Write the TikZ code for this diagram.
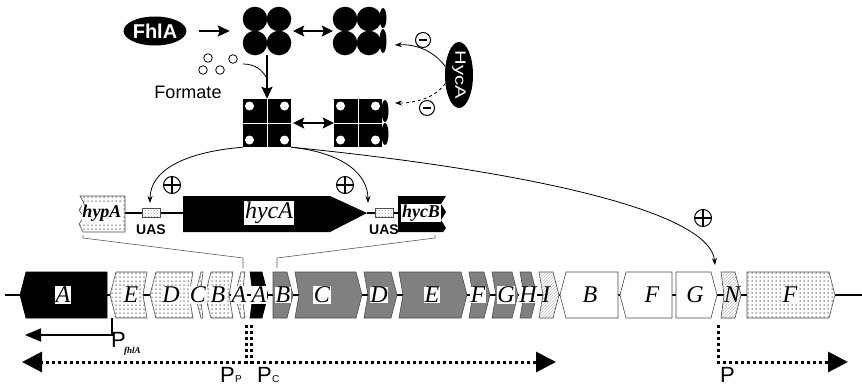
\documentclass[tikz,border=0pt]{standalone}
\usepackage{fontspec}
\setmainfont{Liberation Serif}
\setsansfont{Liberation Sans}
\usetikzlibrary{arrows.meta, patterns, shapes.geometric}
\newcommand{\fsz}[1]{\fontsize{#1}{#1}\selectfont}
\pgfdeclarepatternformonly{bigdots}{\pgfqpoint{-1pt}{-1pt}}{\pgfqpoint{3pt}{3pt}}{\pgfqpoint{4pt}{4pt}}{%
  \pgfpathcircle{\pgfqpoint{0pt}{0pt}}{0.75pt}\pgfusepath{fill}}
% gene arrows on the map: x1, x2, notch
\newcommand{\geneR}[4][]{\draw[#1] (#2,272) -- ({#3-6},272) -- (#3,295) -- ({#3-6},318) -- (#2,318) -- ({#2+#4},295) -- cycle;}
\newcommand{\geneL}[4][]{\draw[#1] (#2,295) -- ({#2+6},272) -- (#3,272) -- ({#3-#4},295) -- (#3,318) -- ({#2+6},318) -- cycle;}

\begin{document}
\begin{tikzpicture}[x=1pt, y=-1pt,
  arr/.style={line width=1.8pt, -{Stealth[length=12pt,width=11pt,inset=2pt]}},
  darr/.style={line width=1.8pt, {Stealth[length=11pt,width=11pt,inset=2pt]}-{Stealth[length=11pt,width=11pt,inset=2pt]}},
  thinarr/.style={line width=0.8pt, -{Stealth[length=7pt,width=5pt]}},
  cplx/.style={minimum size=48pt, inner sep=0pt},
  sminus/.style={circle, draw, line width=1pt, minimum size=15pt, inner sep=0pt,
    path picture={\draw[line width=2.6pt] ([xshift=3.5pt]path picture bounding box.west) -- ([xshift=-3.5pt]path picture bounding box.east);}},
  splus/.style={circle, draw, line width=1pt, minimum size=17pt, inner sep=0pt,
    path picture={\draw[line width=1.4pt] (path picture bounding box.west) -- (path picture bounding box.east) (path picture bounding box.north) -- (path picture bounding box.south);}},
  gengray/.style={fill=gray, draw=gray!60!black, line width=0.6pt},
  genblack/.style={fill=black, draw=black, line width=0.6pt},
  genwhite/.style={fill=white, draw=gray!60!black, line width=0.6pt},
  gendots/.style={preaction={fill=white}, pattern=bigdots, pattern color=gray!70!black, draw=gray!60!black, line width=0.6pt},
  genhatch/.style={preaction={fill=white}, pattern=north east lines, pattern color=gray!50, draw=gray!60!black, line width=0.6pt},
  glab/.style={fill=white, inner sep=0.6pt, font=\fsz{24}\itshape},
  glabh/.style={inner sep=0.6pt, font=\fsz{24}\itshape},
  glabb/.style={fill=white, inner sep=0.6pt, font=\fsz{18}\bfseries\itshape},
  uas/.style={draw=gray!60!black, preaction={fill=white}, pattern=crosshatch dots, pattern color=gray!70, minimum width=18pt, minimum height=9pt, inner sep=0pt},
  uaslab/.style={font=\sffamily\bfseries\fsz{14}, inner sep=0pt},
  plab/.style={font=\sffamily\fsz{22}, inner sep=0pt, anchor=base west},
  psub/.style={font=\sffamily\fsz{10}, inner sep=0pt, anchor=base west},
  pdot/.style={line width=3pt, dash pattern=on 3pt off 3pt, -{Triangle[length=20pt,width=20pt]}},
  brk/.style={line width=0.6pt, gray!70!black}
]
\useasboundingbox (0,0) rectangle (862,389);

% regulation scheme
\node[ellipse, fill=black, text=white, minimum width=57pt, minimum height=29pt, inner sep=0pt, font=\sffamily\bfseries\fsz{20}] (fhlAp) at (155,31) {FhlA};
\node[cplx] (tet) at (267,31) {};
\node[cplx] (tethy) at (357,31) {};
\node[cplx] (sq) at (267,123) {};
\node[cplx] (sqhy) at (358,123) {};
\foreach \cx in {267,357}
  \foreach \dx in {-12,12}
    \foreach \dy in {-12,12}
      \fill ({\cx+\dx},{31+\dy}) circle[radius=12.3];
\foreach \cx in {267,358} {
  \fill ({\cx-24},99) rectangle ({\cx+24},147);
  \draw[white, line width=0.7pt] (\cx,99) -- (\cx,147) ({\cx-24},123) -- ({\cx+24},123);
  \foreach \dx in {-17.5,17.5}
    \foreach \dy in {-17,17}
      \fill[white] ({\cx+\dx},{123+\dy}) circle[radius=4.5];
}
\fill (383,18) ellipse[x radius=3.5, y radius=10];
\fill (383,41) ellipse[x radius=3.5, y radius=12];
\fill (385,111) ellipse[x radius=3.5, y radius=11];
\fill (385,134) ellipse[x radius=3.5, y radius=11];

\draw[arr, shorten <=12pt, shorten >=13pt] (fhlAp) -- (tet);
\draw[darr, shorten <=2pt] (tet) -- (tethy);
\draw[arr] (tet) -- (sq);
\draw[darr, shorten <=2pt] (sq) -- (sqhy);

\node[ellipse, fill=black, minimum width=28pt, minimum height=66pt, inner sep=0pt] (hycAp) at (459,75) {};
\node[text=white, font=\sffamily\fsz{15}, rotate=-90, xscale=1.35, transform shape, inner sep=0pt] (hycAt) at (hycAp) {HycA};
\coordinate (tethyin) at (395,45);
\coordinate (sqhyin) at (395,103);
\draw[thinarr] (hycAp.148) .. controls (433,50) and (415,44) .. (tethyin);
\draw[thinarr, dashed] (hycAp.212) .. controls (435,98) and (415,103) .. (sqhyin);
\node[sminus] (m1) at (423,40) {};
\node[sminus] (m2) at (427,108) {};

\foreach \p in {(208,58),(233,59),(203,70),(220,70)}
  \draw[line width=0.8pt] \p circle[radius=4.3];
\node[font=\sffamily\fsz{18}, inner sep=0pt] (fmt) at (188,92) {Formate};
\coordinate (fmtin) at (243,64);
\coordinate (fmtout) at (266,77);
\draw[line width=0.8pt] (fmtin) .. controls (255,64) and (262,70) .. (fmtout);

\coordinate (uasL) at (150,203);
\coordinate (uasR) at (368,203);
\coordinate (nIn) at (715,265);
\draw[thinarr] (sq.south west) .. controls (185,152) and (150,170) .. (uasL);
\draw[thinarr] (sq.south east) .. controls (345,153) and (368,175) .. (uasR);
\draw[thinarr] (sq.south east) .. controls (520,170) and (710,210) .. (nIn);
\node[splus] (p1) at (172,185) {};
\node[splus] (p2) at (345,185) {};
\node[splus] (p3) at (703,218) {};

% hyp-hyc intergenic region
\draw[line width=2pt] (125,213) -- (183,213) (367,213) -- (398,213);
\draw[gendots] (125,196) -- (80,196) -- (84,203) -- (79,210) -- (84,217) -- (79,224) -- (83,232) -- (125,232) -- cycle;
\fill (183,196) -- (330,196) -- (367,213) -- (330,232) -- (183,232) -- cycle;
\fill (398,196) -- (446,196) -- (441,204) -- (446,212) -- (441,220) -- (446,228) -- (443,232) -- (398,232) -- cycle;
\node[glabb] (hypAm) at (102,213) {hypA};
\node[glab] (hycAm) at (269,213) {hycA};
\node[glabb] (hycBm) at (421,213) {hycB};
\node[uas] (uas1) at (151,212.5) {};
\node[uas] (uas2) at (384,212.5) {};
\node[uaslab, below=7pt] (uas1l) at (uas1.south) {UAS};
\node[uaslab, below=7pt] (uas2l) at (uas2.south) {UAS};
\draw[brk] (83,235) -- (83,238) -- (243,258) -- (243,268);
\draw[brk] (435,235) -- (435,238) -- (277,258) -- (277,268);

% gene map
\draw[line width=1.6pt] (5,295) -- (862,295);
\geneL[genblack]{20}{107}{0}
\geneL[gendots]{110}{147}{4}
\geneL[gendots]{150}{193}{4}
\geneL[gendots]{195}{203}{3}
\geneL[gendots]{205}{233}{4}
\geneL[gendots]{235}{245}{3}
\geneR[genblack]{250}{268}{3}
\geneR[gengray]{273}{293}{0}
\geneR[gengray]{295}{362}{4}
\geneR[gengray]{364}{397}{4}
\geneR[gengray]{399}{467}{4}
\geneR[gengray]{469}{490}{4}
\geneR[gengray]{492}{518}{4}
\geneR[gengray]{520}{537}{4}
\geneR[genhatch]{539}{559}{4}
\geneL[genwhite]{560}{618}{0}
\geneL[genwhite]{620}{672}{0}
\geneR[genwhite]{676}{717}{0}
\geneR[genhatch]{721}{741}{3}
\geneR[gendots]{747}{835}{0}
\node[glab] (fhlA) at (63,295) {A};
\node[glab] (hypE) at (131,295) {E};
\node[glab] (hypD) at (171,295) {D};
\node[glab] (hypC) at (198,295) {C};
\node[glab] (hypB) at (218,295) {B};
\node[glab] (hypA) at (239,295) {A};
\node[glab] (hycA) at (259,295) {A};
\node[glab] (hycB) at (283,295) {B};
\node[glab] (hycC) at (322,295) {C};
\node[glab] (hycD) at (379,295) {D};
\node[glab] (hycE) at (432,295) {E};
\node[glab] (hycF) at (478,295) {F};
\node[glab] (hycG) at (506,295) {G};
\node[glab] (hycH) at (528,295) {H};
\node[glabh] (hycI) at (546,295) {I};
\node[glab] (ascB) at (590,295) {B};
\node[glab] (ascF) at (652,295) {F};
\node[glab] (ascG) at (695,295) {G};
\node[glabh] (hydN) at (732,295) {N};
\node[glab] (hypF) at (790,295) {F};

% promoters and transcripts
\coordinate (pf) at (112,318);
\coordinate (pfend) at (25,335);
\draw[line width=1.8pt, -{Triangle[length=16pt,width=13pt]}] (pf) |- (pfend);
\node[plab] (pfl) at (111,347) {P};
\node[psub, font=\bfseries\itshape\fsz{9}] (pfs) at (124,353) {fhlA};
\coordinate (pp) at (246,325);
\coordinate (ppend) at (22,362);
\coordinate (pc) at (251.5,325);
\coordinate (pcend) at (556,362);
\coordinate (pr) at (718,325);
\coordinate (prend) at (848,362);
\draw[pdot] (pp) |- (ppend);
\draw[pdot] (pc) |- (pcend);
\draw[pdot] (pr) |- (prend);
\node[plab] (ppl) at (220,382) {P};
\node[psub] (pps) at (235,382) {P};
\node[plab] (pcl) at (257,382) {P};
\node[psub] (pcs) at (272,382) {C};
\node[plab] (prl) at (720,382) {P};
\end{tikzpicture}
\end{document}
